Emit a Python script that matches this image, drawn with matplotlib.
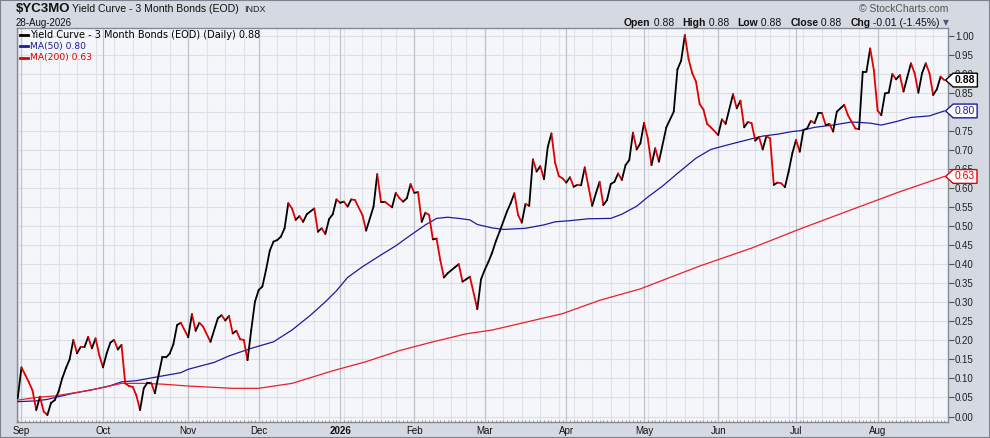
import matplotlib
matplotlib.use("Agg")
import matplotlib.pyplot as plt
from matplotlib.collections import LineCollection
from matplotlib.lines import Line2D
from matplotlib.patches import Rectangle
from matplotlib.path import Path
from matplotlib.transforms import blended_transform_factory
import numpy as np
import pandas as pd

# NYSE trading calendar for the window shown
holidays = ["2025-11-27", "2025-12-25", "2026-01-01", "2026-01-19", "2026-02-16",
            "2026-04-03", "2026-05-25", "2026-06-19", "2026-07-03"]
start_date = "2025-08-29"
end_date = "2026-08-28"

# daily close (trading-day index, value)
price_day = [0, 1, 2, 3, 4, 5, 6, 7, 8, 9, 10, 11, 12, 13, 14, 15, 16, 17, 18, 19,
             20, 21, 22, 23, 24, 25, 26, 27, 28, 29, 30, 31, 32, 33, 34, 35, 36, 37, 38, 39,
             40, 41, 42, 43, 44, 46, 47, 48, 49, 50, 52, 54, 55, 56, 57, 58, 59, 60, 61, 62,
             63, 64, 65, 66, 67, 68, 69, 70, 71, 72, 73, 74, 75, 76, 77, 78, 80, 81, 82, 83,
             84, 85, 86, 87, 88, 89, 90, 91, 93, 94, 96, 97, 98, 99, 101, 102, 103, 104, 105, 106,
             107, 108, 109, 110, 111, 112, 113, 114, 115, 116, 118, 119, 120, 121, 122, 124, 125, 126, 127, 128,
             129, 130, 132, 133, 134, 135, 136, 137, 138, 139, 140, 141, 142, 143, 144, 145, 146, 147, 148, 149,
             150, 151, 152, 153, 154, 155, 156, 157, 158, 159, 160, 161, 162, 163, 164, 165, 166, 167, 168, 169,
             170, 171, 172, 173, 175, 177, 178, 179, 180, 181, 182, 183, 184, 185, 186, 187, 189, 190, 191, 193,
             194, 195, 196, 197, 198, 199, 200, 201, 202, 203, 204, 205, 206, 207, 208, 209, 210, 211, 212, 213,
             214, 215, 216, 217, 218, 219, 220, 221, 222, 223, 224, 226, 227, 228, 229, 230, 231, 232, 233, 234,
             235, 236, 237, 238, 239, 240, 241, 242, 243, 244, 245, 246, 247, 248, 249, 250]
price_val = [0.048, 0.129, 0.110, 0.090, 0.068, 0.017, 0.052, 0.013, 0.004, 0.036, 0.043, 0.065, 0.100, 0.127, 0.150, 0.201, 0.166, 0.183, 0.182, 0.209,
             0.179, 0.205, 0.161, 0.129, 0.166, 0.194, 0.201, 0.176, 0.188, 0.087, 0.080, 0.078, 0.056, 0.017, 0.074, 0.089, 0.089, 0.061, 0.109, 0.155,
             0.155, 0.165, 0.190, 0.240, 0.246, 0.208, 0.269, 0.225, 0.246, 0.236, 0.196, 0.258, 0.266, 0.252, 0.264, 0.218, 0.225, 0.203, 0.201, 0.148,
             0.227, 0.301, 0.332, 0.341, 0.385, 0.435, 0.459, 0.463, 0.472, 0.494, 0.560, 0.546, 0.516, 0.526, 0.511, 0.531, 0.546, 0.485, 0.494, 0.479,
             0.518, 0.531, 0.570, 0.561, 0.564, 0.551, 0.570, 0.568, 0.529, 0.488, 0.551, 0.636, 0.564, 0.564, 0.549, 0.587, 0.573, 0.564, 0.573, 0.610,
             0.587, 0.589, 0.511, 0.535, 0.529, 0.465, 0.467, 0.411, 0.365, 0.376, 0.392, 0.400, 0.354, 0.360, 0.367, 0.282, 0.360, 0.385, 0.406, 0.430,
             0.460, 0.485, 0.538, 0.560, 0.586, 0.529, 0.509, 0.558, 0.553, 0.675, 0.643, 0.657, 0.623, 0.707, 0.743, 0.666, 0.631, 0.625, 0.614, 0.628,
             0.603, 0.608, 0.607, 0.654, 0.603, 0.553, 0.586, 0.616, 0.555, 0.568, 0.610, 0.616, 0.638, 0.621, 0.660, 0.673, 0.745, 0.701, 0.717, 0.771,
             0.730, 0.660, 0.704, 0.669, 0.759, 0.800, 0.911, 0.934, 1.001, 0.938, 0.901, 0.879, 0.820, 0.806, 0.768, 0.759, 0.739, 0.780, 0.768, 0.846,
             0.809, 0.829, 0.759, 0.773, 0.770, 0.724, 0.734, 0.701, 0.736, 0.730, 0.608, 0.614, 0.612, 0.602, 0.643, 0.691, 0.726, 0.695, 0.752, 0.756,
             0.776, 0.770, 0.796, 0.796, 0.765, 0.768, 0.748, 0.800, 0.809, 0.818, 0.791, 0.756, 0.754, 0.905, 0.905, 0.966, 0.909, 0.803, 0.791, 0.848,
             0.850, 0.899, 0.885, 0.896, 0.853, 0.890, 0.927, 0.901, 0.850, 0.901, 0.927, 0.901, 0.844, 0.859, 0.892, 0.883]

ma50_day = [0, 5, 8, 11, 15, 20, 25, 28, 32, 37, 44, 46, 53, 57, 63, 69, 74, 79, 83, 86,
            89, 93, 98, 102, 106, 110, 113, 116, 119, 122, 124, 128, 131, 137, 142, 145, 149, 154, 160, 163,
            167, 170, 174, 178, 183, 187, 192, 196, 201, 205, 209, 211, 215, 220, 225, 230, 233, 237, 241, 246, 250]
ma50_val = [0.039, 0.041, 0.045, 0.052, 0.061, 0.070, 0.081, 0.091, 0.094, 0.103, 0.115, 0.124, 0.142, 0.159, 0.179, 0.196, 0.227, 0.266, 0.301, 0.330,
            0.365, 0.393, 0.424, 0.448, 0.476, 0.503, 0.520, 0.523, 0.520, 0.516, 0.504, 0.495, 0.491, 0.494, 0.503, 0.511, 0.514, 0.519, 0.520, 0.531,
            0.552, 0.576, 0.605, 0.638, 0.678, 0.701, 0.714, 0.724, 0.736, 0.741, 0.748, 0.750, 0.759, 0.765, 0.773, 0.770, 0.765, 0.774, 0.785, 0.789, 0.802]

ma200_day = [0, 5, 10, 17, 23, 28, 34, 39, 46, 58, 65, 74, 85, 94, 103, 112, 121, 128, 147, 157,
             168, 184, 198, 211, 225, 238, 250]
ma200_val = [0.043, 0.050, 0.054, 0.065, 0.076, 0.087, 0.087, 0.085, 0.080, 0.074, 0.074, 0.087, 0.120, 0.144, 0.173, 0.196, 0.217, 0.227, 0.270, 0.305,
             0.335, 0.395, 0.442, 0.492, 0.543, 0.590, 0.630]

month_names = ["Sep", "Oct", "Nov", "Dec", "2026", "Feb", "Mar", "Apr", "May", "Jun", "Jul", "Aug"]

W, H = 990, 438


def fx(px):
    return px / W


def fy(py):
    return 1 - py / H


days = pd.bdate_range(start_date, end_date, freq="C", holidays=holidays)
idx = pd.Series(np.arange(len(days)), index=days)
month_first = idx.groupby([days.year, days.month]).first().values[1:]
week_first = idx.groupby(days - pd.to_timedelta(days.weekday, unit="D")).first().values

fig = plt.figure(figsize=(W / 100, H / 100), dpi=100, facecolor="#d4d9e2")
ax = fig.add_axes([fx(17), fy(422), fx(931), 394 / H])
ax.set_facecolor("#f5f6fa")
ax.set_xlim(-0.2, 251)
ax.set_ylim(-0.0144, 1.0197)

# grid
for w in week_first:
    ax.axvline(w, color="#dfe2e9", lw=0.8, zorder=0)
for m in month_first:
    ax.axvline(m, color="#bfc3cb", lw=0.9, zorder=0.1)
for v in np.arange(0, 1.0001, 0.05):
    ax.axhline(v, color="#dcdfe6", lw=0.8, zorder=0)

# price, black on up days and red on down days
pts = np.column_stack([price_day, price_val])
segs = np.stack([pts[:-1], pts[1:]], axis=1)
cols = ["#000000" if b >= a else "#e00000" for a, b in zip(price_val[:-1], price_val[1:])]
ax.add_collection(LineCollection(segs, colors=cols, linewidths=1.3, capstyle="round", zorder=4))

ax.plot(ma50_day, ma50_val, color="#1c1c9c", lw=0.9, zorder=3)
ax.plot(ma200_day, ma200_val, color="#e8202a", lw=0.9, zorder=3)

# axes
ax.yaxis.tick_right()
ax.set_yticks(np.arange(0, 1.0001, 0.05))
ax.set_yticklabels(["%.2f" % v for v in np.arange(0, 1.0001, 0.05)])
ax.tick_params(axis="y", length=4, width=0.8, color="#555555", pad=1,
               labelsize=7, labelcolor="#222222")
ax.set_xticks(month_first)
ax.set_xticklabels(month_names)
ax.set_xticks(np.arange(len(days)), minor=True)
ax.tick_params(axis="x", which="major", length=0, pad=3, labelsize=7, labelcolor="#111111")
ax.tick_params(axis="x", which="minor", length=1.5, width=0.5, color="#777777", direction="in")
for lab in ax.get_yticklabels() + ax.get_xticklabels():
    lab.set_fontfamily("Liberation Sans")
for lab in ax.get_xticklabels():
    if lab.get_text() == "2026":
        lab.set_fontweight("bold")
for s in ax.spines.values():
    s.set_color("#868a93")
    s.set_linewidth(1.0)


# value tags on the right
def tag_box(x0, y0, width, height, mutation_size):
    pad = mutation_size * 0.18
    x0 -= pad
    y0 -= pad
    w = width + 2 * pad
    h = height + 2 * pad
    tip = h * 0.55
    verts = [(x0 - tip, y0 + h / 2), (x0, y0), (x0 + w, y0), (x0 + w, y0 + h),
             (x0, y0 + h), (x0 - tip, y0 + h / 2)]
    return Path(verts, closed=True)


tr = blended_transform_factory(ax.transAxes, ax.transData)
tag_x = 1 + 7 / 931
tags = [(price_val[-1], "#000000", "bold"), (ma50_val[-1], "#1c1c9c", "normal"),
        (ma200_val[-1], "#e00000", "normal")]
for val, c, wt in tags:
    ax.text(tag_x, val, "%.2f" % val, transform=tr, ha="left", va="center", fontsize=7.5,
            family="Liberation Sans", color=c, fontweight=wt, clip_on=False, zorder=10,
            bbox=dict(boxstyle=tag_box, fc="white", ec=c, lw=1.0))

# legend
legend = [("Yield Curve - 3 Month Bonds (EOD) (Daily) %.2f" % price_val[-1], "#000000", 35, 7.0),
          ("MA(50) %.2f" % ma50_val[-1], "#1c1c9c", 46, 6.6),
          ("MA(200) %.2f" % ma200_val[-1], "#e00000", 57.5, 6.6)]
for txt, c, y, sz in legend:
    fig.add_artist(Line2D([fx(20), fx(28)], [fy(y), fy(y)], color=c, lw=2.0))
    fig.text(fx(30.5), fy(y), txt, color=c, fontsize=sz, va="center", ha="left", family="DejaVu Sans")

# header
renderer = fig.canvas.get_renderer()
fig.text(fx(16), fy(9), "$YC3MO", fontsize=9.5, fontweight="bold", family="Liberation Sans",
         va="center", ha="left", color="#111111")
title = fig.text(fx(72), fy(9.5), "Yield Curve - 3 Month Bonds (EOD)", fontsize=7.6,
                 family="Liberation Sans", va="center", ha="left", color="#111111")
tx = 72 + title.get_window_extent(renderer).width + 5
fig.text(fx(tx), fy(10), "INDX", fontsize=6.5, family="Liberation Sans",
         va="center", ha="left", color="#222222")
fig.text(fx(16), fy(22.5), "28-Aug-2026", fontsize=7, family="Liberation Sans",
         va="center", ha="left", color="#111111")
fig.text(fx(948), fy(9.3), "\u00a9 StockCharts.com", fontsize=7.5, family="Liberation Sans",
         va="center", ha="right", color="#555555")

ohlc = [("Open", "bold"), (" 0.88   ", "normal"), ("High", "bold"), (" 0.88   ", "normal"),
        ("Low", "bold"), (" 0.88   ", "normal"), ("Close", "bold"), (" 0.88   ", "normal"),
        ("Chg", "bold"), (" -0.01 (-1.45%)", "normal")]
x = 940
for txt, wt in reversed(ohlc):
    t = fig.text(fx(x), fy(22.5), txt, fontsize=7.5, fontweight=wt, family="Liberation Sans",
                 va="center", ha="right", color="#111111")
    x -= t.get_window_extent(renderer).width
fig.text(fx(945.5), fy(22.5), "\u25bc", fontsize=5.5, family="DejaVu Sans", va="center",
         ha="center", color="#4d5a78")

fig.add_artist(Rectangle((0, 0), 1, 1, transform=fig.transFigure, fill=False,
                         edgecolor="#7d8290", lw=1.5))

fig.savefig("out.png", dpi=100, facecolor=fig.get_facecolor())
